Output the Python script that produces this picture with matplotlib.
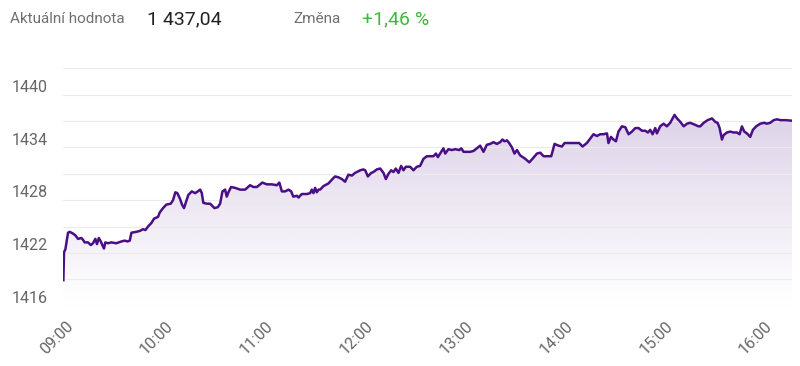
import numpy as np
import matplotlib
matplotlib.use("Agg")
import matplotlib.pyplot as plt
from matplotlib.transforms import ScaledTranslation

# intraday index values, minutes after 09:00
minutes = [0.2, 0.6, 1.4, 3.0, 4.0, 6.0, 7.4, 9.0, 11.0, 12.0, 13.0, 15.0, 16.7, 18.0,
           19.4, 20.4, 21.5, 22.7, 23.6, 24.6, 25.4, 27.1, 29.0, 32.0, 35.0, 37.1, 38.7,
           40.1, 41.1, 44.1, 46.1, 48.1, 49.5, 51.5, 53.1, 54.7, 57.1, 58.1, 60.1, 62.1,
           64.7, 66.1, 67.5, 68.7, 70.2, 71.5, 72.7, 75.3, 77.4, 79.4, 81.0, 82.4, 83.4,
           84.3, 86.4, 88.4, 91.0, 93.0, 94.4, 95.8, 97.4, 98.4, 99.4, 101.0, 103.4, 106.4,
           109.4, 112.4, 114.4, 116.5, 119.8, 122.5, 125.5, 128.5, 130.0, 131.5, 133.5,
           135.5, 137.1, 138.4, 140.5, 141.5, 143.5, 146.5, 148.5, 149.5, 150.5, 151.5,
           152.5, 153.5, 154.5, 156.5, 159.5, 161.9, 163.5, 165.5, 167.6, 169.5, 171.5,
           173.6, 175.5, 178.6, 180.5, 181.6, 183.2, 185.2, 186.5, 188.6, 190.6, 192.6,
           194.0, 195.6, 197.2, 198.6, 200.0, 201.6, 203.2, 204.6, 206.0, 208.6, 210.6,
           212.6, 214.6, 216.6, 218.7, 220.6, 222.6, 224.1, 225.3, 227.3, 228.6, 229.7,
           231.6, 233.7, 235.7, 238.1, 239.3, 240.7, 242.7, 244.7, 246.7, 248.7, 250.7,
           252.7, 254.7, 256.7, 258.7, 260.7, 262.7, 264.1, 265.3, 266.8, 268.1, 269.8,
           271.3, 272.8, 274.7, 277.8, 280.2, 282.1, 284.8, 286.8, 288.8, 291.4, 293.4,
           295.4, 297.8, 299.8, 301.4, 304.8, 307.8, 310.2, 312.2, 314.8, 316.8, 318.8,
           320.9, 322.8, 324.8, 326.9, 327.8, 329.3, 330.8, 332.3, 333.8, 335.9, 337.9,
           339.9, 341.9, 343.9, 345.9, 347.9, 349.9, 351.5, 352.9, 354.3, 355.9, 356.9,
           358.9, 360.9, 362.9, 364.9, 367.5, 369.0, 371.0, 373.0, 375.0, 376.9, 379.5,
           381.9, 383.0, 385.0, 387.4, 390.0, 392.0, 393.4, 394.6, 396.0, 397.0, 399.0,
           401.0, 403.0, 405.0, 406.6, 408.0, 409.4, 411.0, 413.0, 414.6, 416.6, 419.0,
           421.4, 423.0, 425.0, 427.1, 429.1, 431.1, 434.1, 438.1]
values = [1418.9, 1422.1, 1422.4, 1424.3, 1424.4, 1424.2, 1424.0, 1423.6, 1423.7, 1423.5,
          1423.2, 1423.2, 1422.9, 1423.1, 1423.6, 1423.0, 1423.7, 1423.3, 1422.9, 1422.5,
          1423.2, 1423.1, 1423.2, 1423.1, 1423.3, 1423.4, 1423.3, 1423.4, 1424.3, 1424.4,
          1424.5, 1424.7, 1424.6, 1425.1, 1425.4, 1425.9, 1426.1, 1426.6, 1427.1, 1427.5,
          1427.6, 1428.0, 1428.9, 1428.8, 1428.2, 1427.5, 1427.1, 1428.6, 1429.0, 1428.8,
          1429.0, 1429.2, 1428.8, 1427.7, 1427.6, 1427.6, 1427.1, 1427.2, 1427.6, 1429.0,
          1429.2, 1428.4, 1428.9, 1429.5, 1429.4, 1429.2, 1429.2, 1429.7, 1429.5, 1429.5,
          1430.0, 1429.8, 1429.8, 1429.7, 1430.0, 1429.0, 1429.0, 1429.2, 1429.0, 1428.4,
          1428.5, 1428.3, 1428.7, 1428.7, 1428.8, 1429.2, 1428.8, 1429.4, 1428.9, 1429.2,
          1429.2, 1429.6, 1429.9, 1430.4, 1430.7, 1430.6, 1430.4, 1430.1, 1430.9, 1430.8,
          1431.1, 1431.4, 1431.5, 1431.4, 1430.7, 1431.1, 1431.2, 1431.5, 1431.6, 1431.1,
          1430.4, 1431.0, 1431.4, 1431.2, 1431.6, 1431.1, 1431.9, 1431.4, 1431.8, 1431.8,
          1431.4, 1431.8, 1431.9, 1432.7, 1433.0, 1433.0, 1433.0, 1433.3, 1432.9, 1433.5,
          1433.9, 1433.3, 1433.8, 1433.7, 1433.8, 1433.7, 1433.9, 1433.5, 1433.5, 1433.5,
          1433.6, 1433.9, 1434.2, 1433.5, 1434.3, 1434.4, 1434.6, 1434.4, 1434.6, 1434.9,
          1434.7, 1434.8, 1434.5, 1434.0, 1433.3, 1433.7, 1433.1, 1432.7, 1432.3, 1432.7,
          1433.3, 1433.4, 1433.0, 1433.0, 1433.0, 1434.4, 1434.2, 1434.1, 1434.5, 1434.5,
          1434.5, 1434.5, 1434.1, 1434.5, 1435.0, 1435.5, 1435.3, 1435.5, 1435.5, 1435.6,
          1434.5, 1435.2, 1434.9, 1434.7, 1435.8, 1436.4, 1436.3, 1435.5, 1435.8, 1436.2,
          1436.2, 1435.9, 1435.9, 1435.7, 1436.0, 1435.5, 1436.2, 1435.6, 1436.4, 1436.7,
          1436.4, 1436.8, 1437.7, 1437.3, 1436.9, 1436.4, 1436.7, 1436.8, 1436.6, 1436.4,
          1436.4, 1436.8, 1437.1, 1437.3, 1436.9, 1436.8, 1436.2, 1434.9, 1435.4, 1435.7,
          1435.8, 1435.7, 1435.7, 1435.5, 1436.4, 1435.8, 1435.6, 1435.2, 1436.0, 1436.4,
          1436.7, 1436.8, 1436.7, 1436.8, 1437.1, 1437.2, 1437.1, 1437.1, 1437.04]

hour_ticks = [0, 60, 120, 180, 240, 300, 360, 420]
hour_labels = ["09:00", "10:00", "11:00", "12:00", "13:00", "14:00", "15:00", "16:00"]
y_major = [1416, 1422, 1428, 1434, 1440]
y_minor = [1419, 1425, 1431, 1437, 1443]

header_label = "Aktuální hodnota"
header_value = "1 437,04"
change_label = "Změna"
change_value = "+1,46 %"

plt.rcParams['font.family'] = ['Roboto', 'DejaVu Sans']

fig = plt.figure(figsize=(8, 3.66), dpi=100)
ax = fig.add_axes([0.0788, 0.1648, 0.9112, 0.6486])

line_col = "#4a0f84"
ax.plot(minutes, values, color=line_col, lw=1.8, zorder=3)

# gradient area under the line
rgb = matplotlib.colors.to_rgb(line_col)
grad = np.zeros((256, 1, 4))
grad[:, 0, :3] = rgb
grad[:, 0, 3] = np.linspace(0.0, 0.23, 256)
poly = ax.fill_between(minutes, values, 1416, color="none", lw=0)
img = ax.imshow(grad, extent=[0, 438.1, 1416, 1443], origin="lower",
                aspect="auto", zorder=1)
img.set_clip_path(poly.get_paths()[0], transform=ax.transData)

ax.set_xlim(0, 438.1)
ax.set_ylim(1416, 1443)

ax.set_yticks(y_major)
ax.set_yticks(y_minor, minor=True)
ax.set_yticklabels([str(v) for v in y_major])
ax.grid(True, axis="y", which="both", color="#ebebeb", lw=0.8, zorder=0)
ax.tick_params(axis="y", which="both", length=0, pad=11, labelsize=11.5, labelcolor="#666666")
for lab in ax.get_yticklabels():
    lab.set_va("baseline")
    lab.set_transform(lab.get_transform() + ScaledTranslation(0, 2 / 72, fig.dpi_scale_trans))

ax.set_xticks(hour_ticks)
ax.set_xticklabels(hour_labels, rotation=45, ha="right", va="top", rotation_mode="anchor")
ax.tick_params(axis="x", length=0, pad=9, labelsize=11.5, labelcolor="#666666")
for lab in ax.get_xticklabels():
    lab.set_transform(lab.get_transform() + ScaledTranslation(2 / 72, 0, fig.dpi_scale_trans))

for s in ax.spines.values():
    s.set_visible(False)

hy = 1 - 19 / 366
fig.text(10 / 800, hy, header_label, fontsize=11, color="#707070", va="center")
fig.text(147 / 800, hy, header_value, fontsize=14, color="#222222", va="center")
fig.text(293 / 800, hy, change_label, fontsize=11, color="#707070", va="center")
fig.text(362 / 800, hy, change_value, fontsize=14, color="#3dba3d", va="center")

fig.savefig("out.png", dpi=100)
